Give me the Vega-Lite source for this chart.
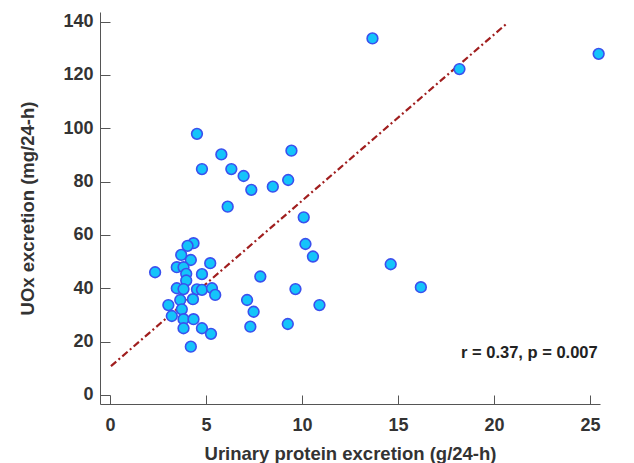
{
  "$schema": "https://vega.github.io/schema/vega-lite/v6.json",
  "autosize": "none",
  "width": 500,
  "height": 392,
  "padding": {"left": 100, "top": 12, "right": 34, "bottom": 59},
  "background": "white",
  "config": {
    "view": {"stroke": null},
    "font": "Liberation Sans"
  },
  "datasets": {
    "pts": [
      {"protein": 4.35, "uox": 56.9}, {"protein": 4.04, "uox": 55.9}, {"protein": 3.71, "uox": 52.5},
      {"protein": 4.21, "uox": 50.6}, {"protein": 5.22, "uox": 49.4}, {"protein": 3.48, "uox": 47.9},
      {"protein": 3.83, "uox": 47.9}, {"protein": 2.35, "uox": 46.0}, {"protein": 3.97, "uox": 45.4},
      {"protein": 4.79, "uox": 45.3}, {"protein": 3.97, "uox": 42.9}, {"protein": 3.48, "uox": 40.0},
      {"protein": 3.83, "uox": 39.7}, {"protein": 4.53, "uox": 39.6}, {"protein": 4.79, "uox": 39.4},
      {"protein": 5.31, "uox": 40.0}, {"protein": 5.48, "uox": 37.5}, {"protein": 4.32, "uox": 35.9},
      {"protein": 3.66, "uox": 35.6}, {"protein": 3.04, "uox": 33.7}, {"protein": 3.74, "uox": 32.1},
      {"protein": 3.22, "uox": 29.6}, {"protein": 3.83, "uox": 28.4}, {"protein": 4.35, "uox": 28.4},
      {"protein": 3.83, "uox": 25.0}, {"protein": 4.79, "uox": 25.0}, {"protein": 5.26, "uox": 22.9},
      {"protein": 4.21, "uox": 18.1},
      {"protein": 7.83, "uox": 44.4}, {"protein": 7.14, "uox": 35.6}, {"protein": 7.48, "uox": 31.2},
      {"protein": 7.31, "uox": 25.6},
      {"protein": 4.53, "uox": 97.9}, {"protein": 5.80, "uox": 90.2}, {"protein": 4.79, "uox": 84.7},
      {"protein": 6.32, "uox": 84.7}, {"protein": 6.96, "uox": 82.1}, {"protein": 7.36, "uox": 76.9},
      {"protein": 8.48, "uox": 78.1}, {"protein": 9.28, "uox": 80.6}, {"protein": 9.45, "uox": 91.6},
      {"protein": 6.13, "uox": 70.6},
      {"protein": 10.09, "uox": 66.6}, {"protein": 10.18, "uox": 56.6}, {"protein": 10.57, "uox": 51.9},
      {"protein": 14.62, "uox": 49.0}, {"protein": 16.19, "uox": 40.4}, {"protein": 9.66, "uox": 39.7},
      {"protein": 10.91, "uox": 33.7}, {"protein": 9.26, "uox": 26.6},
      {"protein": 13.67, "uox": 133.7}, {"protein": 18.2, "uox": 122.2}, {"protein": 25.45, "uox": 127.9}
    ],
    "fit": [
      {"protein": 0.05, "uox": 10.8},
      {"protein": 20.7, "uox": 139.5}
    ],
    "note": [
      {"protein": 25.4, "uox": 15.7, "label": "r = 0.37, p = 0.007"}
    ]
  },
  "layer": [
    {
      "data": {"name": "fit"},
      "mark": {"type": "line", "color": "#a01e1e", "strokeWidth": 2.2, "strokeDash": [7, 3, 2, 3]},
      "encoding": {
        "x": {
          "field": "protein", "type": "quantitative",
          "scale": {"domain": [-0.52, 25.52], "nice": false, "zero": false},
          "axis": {
            "title": "Urinary protein excretion (g/24-h)",
            "values": [0, 5, 10, 15, 20, 25],
            "grid": false,
            "domainColor": "#555555",
            "tickColor": "#555555",
            "tickSize": -9,
            "labelPadding": 21,
            "labelFontSize": 18,
            "labelFontWeight": "bold",
            "labelColor": "#333333",
            "titleFontSize": 18.5,
            "titleFontWeight": "bold",
            "titleColor": "#333333",
            "titlePadding": 10
          }
        },
        "y": {
          "field": "uox", "type": "quantitative",
          "scale": {"domain": [-3.4, 143.6], "nice": false, "zero": false},
          "axis": {
            "title": "UOx excretion (mg/24-h)",
            "values": [0, 10, 20, 30, 40, 50, 60, 70, 80, 90, 100, 110, 120, 130, 140],
            "labelExpr": "datum.value % 20 === 0 ? datum.label : ''",
            "grid": false,
            "domainColor": "#555555",
            "tickColor": "#555555",
            "tickSize": {"condition": {"test": "datum.value % 20 === 0", "value": -10}, "value": -5},
            "labelPadding": 17,
            "labelFontSize": 18,
            "labelFontWeight": "bold",
            "labelColor": "#333333",
            "titleFontSize": 18.5,
            "titleFontWeight": "bold",
            "titleColor": "#333333",
            "titlePadding": 25
          }
        }
      }
    },
    {
      "data": {"name": "pts"},
      "mark": {"type": "point", "filled": false, "fill": "#14c4fa", "fillOpacity": 1, "stroke": "#3a50ee", "strokeWidth": 1.6, "size": 115, "shape": "circle", "opacity": 1},
      "encoding": {
        "x": {"field": "protein", "type": "quantitative"},
        "y": {"field": "uox", "type": "quantitative"}
      }
    },
    {
      "data": {"name": "note"},
      "mark": {"type": "text", "align": "right", "baseline": "middle", "fontSize": 16.5, "fontWeight": "bold", "color": "#222222"},
      "encoding": {
        "x": {"field": "protein", "type": "quantitative"},
        "y": {"field": "uox", "type": "quantitative"},
        "text": {"field": "label"}
      }
    }
  ]
}
